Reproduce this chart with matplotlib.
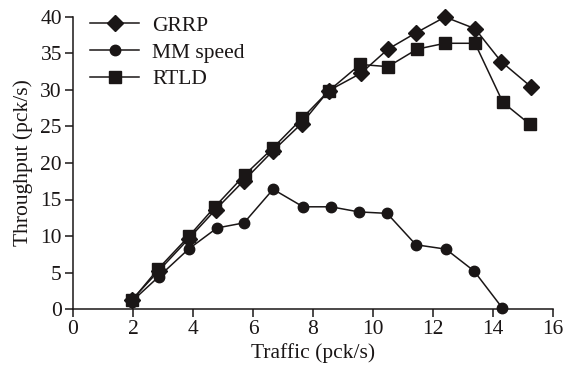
import matplotlib
matplotlib.use("Agg")
import matplotlib.pyplot as plt

x_grrp = [1.95, 2.85, 3.85, 4.75, 5.7, 6.65, 7.62, 8.52, 9.6, 10.5, 11.42, 12.4, 13.4, 14.27, 15.28]
y_grrp = [1.2, 5.2, 9.6, 13.6, 17.6, 21.6, 25.4, 29.9, 32.3, 35.6, 37.8, 40.0, 38.4, 33.9, 30.4]

x_mm = [1.95, 2.85, 3.85, 4.8, 5.7, 6.67, 7.67, 8.6, 9.53, 10.47, 11.43, 12.43, 13.37, 14.3]
y_mm = [1.0, 4.4, 8.2, 11.1, 11.8, 16.4, 14.0, 14.0, 13.3, 13.1, 8.8, 8.2, 5.2, 0.2]

x_rtld = [1.97, 2.84, 3.87, 4.73, 5.73, 6.65, 7.63, 8.53, 9.57, 10.5, 11.47, 12.4, 13.4, 14.33, 15.23]
y_rtld = [1.2, 5.5, 10.0, 14.0, 18.4, 22.0, 26.1, 29.9, 33.5, 33.2, 35.6, 36.4, 36.4, 28.3, 25.3]

xticks = [0, 2, 4, 6, 8, 10, 12, 14, 16]
yticks = [0, 5, 10, 15, 20, 25, 30, 35, 40]

plt.rcParams['font.family'] = ['Liberation Serif', 'DejaVu Serif']
c = '#1a1616'
fs = 15.5

fig = plt.figure(figsize=(5.68, 3.70), dpi=100)
ax = fig.add_axes([73/568, 1 - 309/370, 480/568, 292/370])

ax.plot(x_grrp, y_grrp, color=c, lw=1.1, marker='D', ms=8, label='GRRP', clip_on=False)
ax.plot(x_mm, y_mm, color=c, lw=1.1, marker='o', ms=7.5, label='MM speed', clip_on=False)
ax.plot(x_rtld, y_rtld, color=c, lw=1.1, marker='s', ms=9, label='RTLD', clip_on=False)

ax.set_xlim(0, 16)
ax.set_ylim(0, 40)
ax.set_xticks(xticks)
ax.set_yticks(yticks)
ax.spines['top'].set_visible(False)
ax.spines['right'].set_visible(False)
for s in ('left', 'bottom'):
    ax.spines[s].set_color(c)
    ax.spines[s].set_linewidth(1.1)
ax.tick_params(direction='out', length=6, width=1.1, colors=c, labelsize=fs, pad=2)
ax.set_xlabel('Traffic (pck/s)', fontsize=fs, color=c, labelpad=3)
ax.set_ylabel('Throughput (pck/s)', fontsize=fs, color=c, labelpad=5)

ax.legend(loc='upper left', bbox_to_anchor=(-0.005, 1.07), frameon=False, fontsize=fs,
          handlelength=2.3, labelspacing=0.3, handletextpad=0.6, labelcolor=c)

fig.savefig('out.png', dpi=100)
